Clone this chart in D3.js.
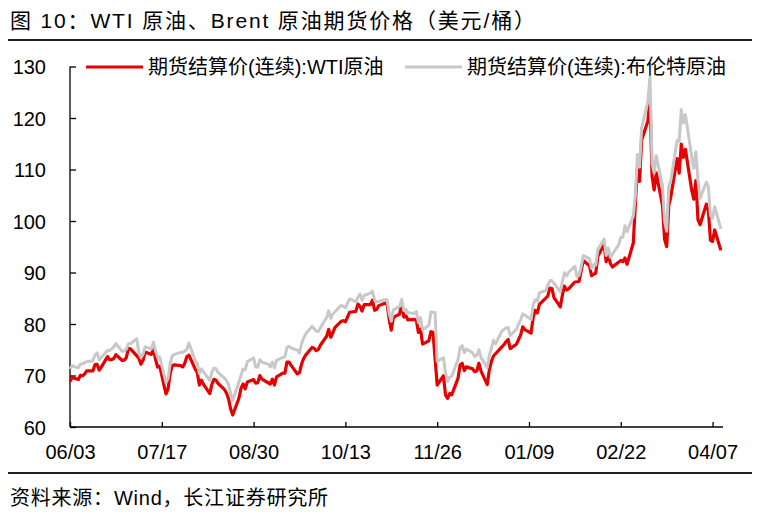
<!DOCTYPE html>
<html><head><meta charset="utf-8">
<script src="https://cdn.jsdelivr.net/npm/d3@7/dist/d3.min.js"></script>
<style>
body{margin:0;background:#fff}
svg text{font-family:"Liberation Sans","Noto Sans CJK SC",sans-serif;fill:#000}
</style>
</head><body>
<svg id="chart" width="758" height="522"></svg>
<script>
// ---------- data ----------
const titleText = "图 10：WTI 原油、Brent 原油期货价格（美元/桶）";
const sourceText = "资料来源：Wind，长江证券研究所";
const seriesNames = ["期货结算价(连续):WTI原油", "期货结算价(连续):布伦特原油"];
const yTicks = [60, 70, 80, 90, 100, 110, 120, 130];
const xTickDates = ["2021-06-03","2021-07-17","2021-08-30","2021-10-13","2021-11-26","2022-01-09","2022-02-22","2022-04-07"];
const xTickLabels = ["06/03","07/17","08/30","10/13","11/26","01/09","02/22","04/07"];

const dates = [
 // 2021-06
 "2021-06-03","2021-06-04","2021-06-07","2021-06-08","2021-06-09","2021-06-10","2021-06-11","2021-06-14","2021-06-15","2021-06-16","2021-06-17","2021-06-18","2021-06-21","2021-06-22","2021-06-23","2021-06-24","2021-06-25","2021-06-28","2021-06-29","2021-06-30",
 // 2021-07
 "2021-07-01","2021-07-02","2021-07-05","2021-07-06","2021-07-07","2021-07-08","2021-07-09","2021-07-12","2021-07-13","2021-07-14","2021-07-15","2021-07-16","2021-07-19","2021-07-20","2021-07-21","2021-07-22","2021-07-23","2021-07-26","2021-07-27","2021-07-28","2021-07-29","2021-07-30",
 // 2021-08
 "2021-08-02","2021-08-03","2021-08-04","2021-08-05","2021-08-06","2021-08-09","2021-08-10","2021-08-11","2021-08-12","2021-08-13","2021-08-16","2021-08-17","2021-08-18","2021-08-19","2021-08-20","2021-08-23","2021-08-24","2021-08-25","2021-08-26","2021-08-27","2021-08-30","2021-08-31",
 // 2021-09
 "2021-09-01","2021-09-02","2021-09-03","2021-09-06","2021-09-07","2021-09-08","2021-09-09","2021-09-10","2021-09-13","2021-09-14","2021-09-15","2021-09-16","2021-09-17","2021-09-20","2021-09-21","2021-09-22","2021-09-23","2021-09-24","2021-09-27","2021-09-28","2021-09-29","2021-09-30",
 // 2021-10
 "2021-10-01","2021-10-04","2021-10-05","2021-10-06","2021-10-07","2021-10-08","2021-10-11","2021-10-12","2021-10-13","2021-10-14","2021-10-15","2021-10-18","2021-10-19","2021-10-20","2021-10-21","2021-10-22","2021-10-25","2021-10-26","2021-10-27","2021-10-28","2021-10-29",
 // 2021-11
 "2021-11-01","2021-11-02","2021-11-03","2021-11-04","2021-11-05","2021-11-08","2021-11-09","2021-11-10","2021-11-11","2021-11-12","2021-11-15","2021-11-16","2021-11-17","2021-11-18","2021-11-19","2021-11-22","2021-11-23","2021-11-24","2021-11-25","2021-11-26","2021-11-29","2021-11-30",
 // 2021-12
 "2021-12-01","2021-12-02","2021-12-03","2021-12-06","2021-12-07","2021-12-08","2021-12-09","2021-12-10","2021-12-13","2021-12-14","2021-12-15","2021-12-16","2021-12-17","2021-12-20","2021-12-21","2021-12-22","2021-12-23","2021-12-24","2021-12-27","2021-12-28","2021-12-29","2021-12-30","2021-12-31",
 // 2022-01
 "2022-01-03","2022-01-04","2022-01-05","2022-01-06","2022-01-07","2022-01-10","2022-01-11","2022-01-12","2022-01-13","2022-01-14","2022-01-17","2022-01-18","2022-01-19","2022-01-20","2022-01-21","2022-01-24","2022-01-25","2022-01-26","2022-01-27","2022-01-28","2022-01-31",
 // 2022-02
 "2022-02-01","2022-02-02","2022-02-03","2022-02-04","2022-02-07","2022-02-08","2022-02-09","2022-02-10","2022-02-11","2022-02-14","2022-02-15","2022-02-16","2022-02-17","2022-02-18","2022-02-21","2022-02-22","2022-02-23","2022-02-24","2022-02-25","2022-02-28",
 // 2022-03
 "2022-03-01","2022-03-02","2022-03-03","2022-03-04","2022-03-07","2022-03-08","2022-03-09","2022-03-10","2022-03-11","2022-03-14","2022-03-15","2022-03-16","2022-03-17","2022-03-18","2022-03-21","2022-03-22","2022-03-23","2022-03-24","2022-03-25","2022-03-28","2022-03-29","2022-03-30","2022-03-31",
 // 2022-04
 "2022-04-01","2022-04-04","2022-04-05","2022-04-06","2022-04-07","2022-04-08","2022-04-11"
];

const wti = [
 68.81,69.62,69.23,70.05,69.96,70.29,70.91,70.88,72.12,72.15,71.04,71.64,73.66,73.06,73.08,73.30,74.05,72.91,72.98,73.47,
 75.23,75.16,null,73.37,72.20,72.94,74.56,74.10,75.25,73.13,71.65,71.81,66.42,67.42,70.30,71.91,72.07,71.91,71.65,72.39,73.62,73.95,
 71.26,70.56,68.15,69.09,68.28,66.48,68.29,69.25,69.09,68.44,67.29,66.59,65.46,63.50,62.32,65.64,67.54,68.36,67.42,68.74,69.21,68.50,
 68.59,69.99,69.29,null,68.35,69.30,68.14,69.72,70.45,70.46,72.61,72.61,71.97,70.29,70.56,72.23,73.30,73.98,75.45,75.29,74.83,75.03,
 75.88,77.62,78.93,77.43,78.30,79.35,80.52,80.64,80.44,81.31,82.28,82.44,83.87,83.42,82.50,83.76,83.76,84.65,82.66,82.81,83.57,
 84.05,83.91,80.86,78.81,81.27,81.93,84.15,81.34,81.59,80.79,80.88,80.76,78.36,79.01,76.10,76.75,78.50,78.39,null,68.15,69.95,66.18,
 65.57,66.50,66.26,69.49,72.05,72.36,70.94,71.67,71.29,70.73,70.87,72.38,70.86,68.23,71.12,72.76,73.79,null,75.57,75.98,76.56,76.99,75.21,
 76.08,76.99,77.85,79.46,78.90,78.23,81.22,82.64,82.12,83.82,null,85.43,86.96,86.90,85.14,83.31,85.60,87.35,86.61,86.82,88.15,
 88.20,88.26,90.27,92.31,91.32,89.36,89.66,89.88,93.10,95.46,92.07,93.66,91.76,91.07,null,92.35,92.10,92.81,91.59,95.72,
 103.41,110.60,107.67,115.68,119.40,123.70,108.70,106.02,109.33,103.01,96.44,95.04,102.98,104.70,112.12,109.27,114.93,112.34,113.90,105.96,104.24,107.82,100.28,
 99.27,103.28,101.96,96.23,96.03,98.26,94.29
];

const brent = [
 71.31,71.89,71.49,72.22,72.22,72.52,72.69,72.86,73.99,74.39,73.08,73.51,74.90,74.81,75.19,75.56,76.18,74.68,74.76,75.13,
 76.17,76.17,77.16,74.53,73.43,74.12,75.55,75.16,76.49,74.76,73.47,73.59,68.62,69.35,72.23,73.79,74.10,74.50,74.48,74.74,75.05,76.33,
 72.89,72.41,70.38,71.29,70.70,69.04,70.63,71.44,71.31,70.59,69.51,69.03,68.23,66.45,65.18,68.75,70.05,71.25,71.07,72.70,73.41,71.63,
 71.59,73.03,72.61,72.22,71.69,72.60,71.45,72.92,73.51,73.60,75.46,75.67,75.34,74.92,74.36,76.19,77.25,78.09,79.53,79.09,78.64,78.52,
 79.28,81.26,82.56,81.08,81.95,82.39,83.65,83.42,83.18,84.00,84.86,84.33,85.08,85.82,84.61,85.53,85.99,86.40,84.58,84.32,84.38,
 84.71,84.72,81.99,80.54,82.74,83.43,84.78,82.64,82.87,82.17,82.05,82.43,80.28,81.24,78.89,79.70,82.31,82.25,82.22,72.72,73.44,70.57,
 68.87,69.67,69.88,73.08,75.44,75.82,74.42,75.15,74.39,73.70,73.88,75.02,73.52,71.52,73.98,75.29,76.85,76.14,78.60,78.94,79.23,79.32,77.78,
 78.98,80.00,80.80,81.99,81.75,80.87,83.72,84.67,84.47,86.06,86.48,87.51,88.44,88.38,87.89,86.27,88.20,89.96,89.34,90.03,91.21,
 89.16,89.47,91.11,93.27,92.69,90.78,91.55,91.41,94.44,96.48,93.28,94.81,92.97,93.54,95.39,96.84,96.84,99.08,97.93,100.99,
 104.97,112.93,110.46,118.11,123.21,127.98,111.14,109.33,112.67,106.90,99.91,98.02,106.64,107.93,115.62,115.48,121.60,119.03,120.65,112.48,110.23,113.45,107.91,
 104.39,107.53,106.64,101.07,100.58,102.78,98.48
];

// ---------- chart ----------
const svg = d3.select("#chart");
const parse = d3.timeParse("%Y-%m-%d");
const x = d3.scaleTime()
  .domain([parse("2021-06-03"), parse("2022-04-12")])
  .range([70, 723]);
const y = d3.scaleLinear().domain([60, 130]).range([427, 66.5]);

// title
svg.append("text").attr("x", 10).attr("y", 28)
  .style("font-size", "21px")
  .attr("textLength", 525).attr("lengthAdjust", "spacing")
  .text(titleText);
svg.append("line").attr("x1", 8).attr("x2", 752).attr("y1", 40).attr("y2", 40)
  .attr("stroke", "#222").attr("stroke-width", 1.8);

// axes
const yAxis = d3.axisLeft(y).tickValues(yTicks).tickSize(-6).tickPadding(24);
const gy = svg.append("g").attr("transform", "translate(70,0)").call(yAxis);
gy.select(".domain").remove();
gy.append("line").attr("x1", 0).attr("x2", 0).attr("y1", y(130)).attr("y2", y(60))
  .attr("stroke", "#000").attr("stroke-width", 1.3);
gy.selectAll(".tick line").attr("stroke", "#000").attr("stroke-width", 1.3);
gy.selectAll(".tick text").style("font-size", "20px").attr("fill", "#000")
  .attr("x", -24).attr("dy", "0.36em");

const xAxis = d3.axisBottom(x).tickValues(xTickDates.map(parse))
  .tickFormat((d, i) => xTickLabels[i]).tickSize(-5).tickPadding(14);
const gx = svg.append("g").attr("transform", "translate(0,427)").call(xAxis);
gx.select(".domain").remove();
gx.append("line").attr("x1", 70).attr("x2", 723).attr("y1", 0).attr("y2", 0)
  .attr("stroke", "#000").attr("stroke-width", 1.3);
gx.selectAll(".tick line").attr("stroke", "#000").attr("stroke-width", 1.3);
gx.selectAll(".tick text").style("font-size", "20px").attr("fill", "#000")
  .attr("y", 32).attr("dy", 0);

// lines
const n = Math.min(dates.length, wti.length, brent.length);
const idx = d3.range(n);
const wtiPts = idx.filter(i => wti[i] != null).map(i => [parse(dates[i]), wti[i]]);
const brentPts = idx.filter(i => brent[i] != null).map(i => [parse(dates[i]), brent[i]]);
const line = d3.line().x(d => x(d[0])).y(d => y(d[1]));

svg.append("path").datum(wtiPts).attr("d", line)
  .attr("fill", "none").attr("stroke", "#e60000").attr("stroke-width", 3.2)
  .attr("stroke-linejoin", "round");
svg.append("path").datum(brentPts).attr("d", line)
  .attr("fill", "none").attr("stroke", "#c8c8c8").attr("stroke-width", 3)
  .attr("stroke-linejoin", "round");

// legend
const legendColors = ["#e60000", "#c8c8c8"];
const legendX = [86, 405];
seriesNames.forEach((name, i) => {
  const g = svg.append("g").attr("transform", `translate(${legendX[i]},67)`);
  g.append("line").attr("x1", 0).attr("x2", 57).attr("y1", 0).attr("y2", 0)
    .attr("stroke", legendColors[i]).attr("stroke-width", 3);
  g.append("text").attr("x", 62).attr("y", 7).style("font-size", "20px").text(name);
});

// footer
svg.append("line").attr("x1", 8).attr("x2", 752).attr("y1", 473).attr("y2", 473)
  .attr("stroke", "#222").attr("stroke-width", 1.8);
svg.append("text").attr("x", 10).attr("y", 505).style("font-size", "20px")
  .attr("textLength", 318).attr("lengthAdjust", "spacing").text(sourceText);
</script>
</body></html>
